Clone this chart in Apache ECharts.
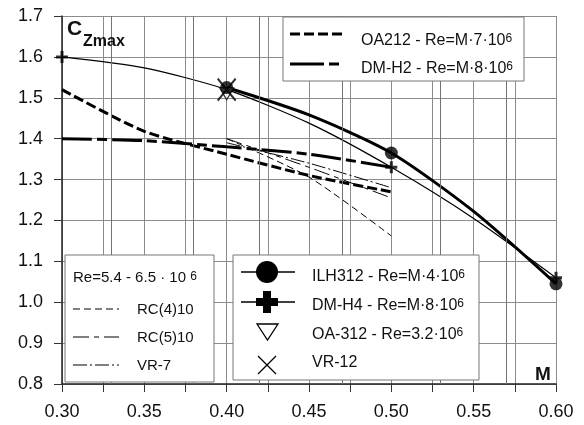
<!DOCTYPE html>
<html>
<head>
<meta charset="utf-8">
<script src="https://cdn.jsdelivr.net/npm/echarts@6/dist/echarts.min.js"></script>
<style>
  html, body { margin: 0; padding: 0; background: #fff; }
  #chart { width: 584px; height: 425px; }
</style>
</head>
<body>
<div id="chart"></div>
<script>
// Maximum lift coefficient C_Zmax versus Mach number for several airfoils.
const FONT = "'Liberation Sans', Arial, sans-serif";

// Mach stations and C_Zmax values per airfoil
const machOA212 = [0.30, 0.35, 0.40, 0.45, 0.50];
const czOA212   = [1.52, 1.418, 1.362, 1.31, 1.27];

const machDMH2 = [0.30, 0.35, 0.40, 0.45, 0.50];
const czDMH2   = [1.40, 1.395, 1.38, 1.362, 1.33];

const machDMH4 = [0.30, 0.35, 0.40, 0.45, 0.50, 0.55, 0.60];
const czDMH4   = [1.60, 1.573, 1.52, 1.438, 1.33, 1.205, 1.06];
const machDMH4Pts = [0.30, 0.50, 0.60];
const czDMH4Pts   = [1.60, 1.33, 1.06];

const machILH312 = [0.40, 0.45, 0.50, 0.55, 0.60];
const czILH312   = [1.525, 1.458, 1.365, 1.222, 1.045];
const machILH312Pts = [0.40, 0.50, 0.60];
const czILH312Pts   = [1.525, 1.365, 1.045];

const machOA312 = [0.40];
const czOA312   = [1.51];

const machVR12 = [0.40];
const czVR12   = [1.52];

const machThin = [0.40, 0.45, 0.50];
const czRC410  = [1.40, 1.306, 1.162];
const czRC510  = [1.40, 1.33, 1.255];
const czVR7    = [1.39, 1.34, 1.28];

// Axis ranges and steps
const machMin = 0.30, machMax = 0.60, machLabelStep = 0.05;
const machTicks = [0.30, 0.325, 0.35, 0.375, 0.40, 0.425, 0.45, 0.475, 0.50, 0.525, 0.55, 0.575, 0.60];
const machHalfSteps = [0.325, 0.375, 0.425, 0.475, 0.525, 0.575];
const czMin = 0.8, czMax = 1.7, czStep = 0.1;

const pairs = (xs, ys) => xs.map((x, i) => [x, ys[i]]);

const PLUS = 'path://M4.5,0h3v4.5h4.5v3h-4.5v4.5h-3v-4.5h-4.5v-3h4.5z';
const CROSS = 'path://M0,0L20,20M20,0L0,20';
const gridLine = { color: '#8c8c8c', width: 1 };

function line(name, data, width, dash, smooth) {
  return {
    name, type: 'line', data, smooth: smooth,
    showSymbol: false, symbol: 'none',
    lineStyle: { color: '#000', width: width, type: dash || 'solid' },
    z: 3, silent: true
  };
}

const series = [
  {
    // intermediate vertical grid lines at the 0.025 steps
    name: 'half-step grid', type: 'line', data: [], z: 1, silent: true,
    markLine: {
      silent: true, symbol: ['none', 'none'], label: { show: false },
      lineStyle: { color: '#737373', width: 1, type: 'solid' },
      emphasis: { disabled: true },
      data: machHalfSteps.map(v => ({ xAxis: v }))
    }
  },
  line('OA212', pairs(machOA212, czOA212), 3, [10, 4], 0.25),
  line('DM-H2', pairs(machDMH2, czDMH2), 3, [30, 5, 10, 5], 0.25),
  line('RC(4)10', pairs(machThin, czRC410), 1, [7, 4], 0.25),
  line('RC(5)10', pairs(machThin, czRC510), 1, [16, 5, 5, 5], 0.25),
  line('VR-7', pairs(machThin, czVR7), 1, [14, 3, 2, 3], 0.25),
  line('DM-H4', pairs(machDMH4, czDMH4), 1.2, 'solid', 0.25),
  line('ILH312', pairs(machILH312, czILH312), 3, 'solid', 0.25),
  {
    name: 'OA-312', type: 'scatter', data: pairs(machOA312, czOA312),
    symbol: 'triangle', symbolRotate: 180, symbolSize: [14, 12],
    itemStyle: { color: '#fff', borderColor: '#000', borderWidth: 1.2 }, z: 4
  },
  {
    name: 'VR-12', type: 'scatter', data: pairs(machVR12, czVR12),
    symbol: CROSS, symbolSize: [18, 22],
    itemStyle: { color: 'none', borderColor: '#000', borderWidth: 2 }, z: 5
  },
  {
    name: 'ILH312 pts', type: 'scatter', data: pairs(machILH312Pts, czILH312Pts),
    symbol: 'circle', symbolSize: 13, itemStyle: { color: '#000' }, z: 6
  },
  {
    name: 'DM-H4 pts', type: 'scatter', data: pairs(machDMH4Pts, czDMH4Pts),
    symbol: PLUS, symbolSize: 12, itemStyle: { color: '#000' }, z: 7
  }
];

// ---- legend artwork ----
const sup = { fontSize: 12, fontFamily: FONT, fill: '#111', verticalAlign: 'top' };
function label(x, y, text, size) {
  const fs = size || 16;
  return {
    type: 'text', x, y, z: 20,
    style: {
      text, fontSize: fs, fontFamily: FONT, fill: '#111',
      verticalAlign: 'middle', rich: { s: sup }
    }
  };
}
function seg(x1, y1, x2, y2, w, dash) {
  return { type: 'line', z: 20, shape: { x1, y1, x2, y2 },
    style: { stroke: '#000', lineWidth: w, lineDash: dash || null } };
}
function box(x, y, w, h) {
  return { type: 'rect', z: 19, shape: { x, y, width: w, height: h },
    style: { fill: '#fff', stroke: '#777', lineWidth: 1 } };
}

const graphics = [
  // axis titles
  { type: 'text', x: 67, y: 40, z: 20, style: { text: 'C', fontSize: 21, fontWeight: 'bold', fontFamily: FONT, fill: '#111', verticalAlign: 'bottom' } },
  { type: 'text', x: 83, y: 50, z: 20, style: { text: 'Zmax', fontSize: 16, fontWeight: 'bold', fontFamily: FONT, fill: '#111', verticalAlign: 'bottom' } },
  { type: 'text', x: 535, y: 384, z: 20, style: { text: 'M', fontSize: 19, fontWeight: 'bold', fontFamily: FONT, fill: '#111', verticalAlign: 'bottom' } },

  // upper legend
  box(283, 17, 241, 64),
  seg(290, 34, 342, 34, 3, [10, 4]),
  seg(290, 64, 342, 64, 3, [34, 5, 10, 5]),
  label(361, 41, 'OA212 - Re=M·7·10{s|6}'),
  label(361, 69, 'DM-H2 - Re=M·8·10{s|6}'),

  // lower-left legend
  box(65, 255, 149, 127),
  label(73, 278, 'Re=5.4 - 6.5 · 10 {s|6}', 15),
  seg(73, 309, 119, 309, 1, [7, 4]),
  seg(73, 337, 119, 337, 1, [16, 5, 5, 5]),
  seg(73, 365, 119, 365, 1, [14, 3, 2, 3]),
  label(137, 310, 'RC(4)10', 15),
  label(137, 338, 'RC(5)10', 15),
  label(137, 366, 'VR-7', 15),

  // lower-right legend
  box(233, 255, 246, 125),
  seg(241, 272, 295, 272, 1.5),
  { type: 'circle', z: 21, shape: { cx: 267, cy: 272, r: 11 }, style: { fill: '#000' } },
  seg(241, 302, 295, 302, 1.5),
  { type: 'rect', z: 21, shape: { x: 256, y: 298, width: 22, height: 8 }, style: { fill: '#000' } },
  { type: 'rect', z: 21, shape: { x: 263, y: 291, width: 8, height: 22 }, style: { fill: '#000' } },
  { type: 'polygon', z: 21, shape: { points: [[257, 324], [278, 324], [267.5, 340]] },
    style: { fill: '#fff', stroke: '#000', lineWidth: 1.3 } },
  seg(258, 356, 276, 374, 1.3),
  seg(276, 356, 258, 374, 1.3),
  label(312, 277, 'ILH312 - Re=M·4·10{s|6}'),
  label(312, 306, 'DM-H4 - Re=M·8·10{s|6}'),
  label(312, 335, 'OA-312 - Re=3.2·10{s|6}'),
  label(312, 363, 'VR-12')
];

const chart = echarts.init(document.getElementById('chart'), null, { renderer: 'canvas' });
chart.setOption({
  animation: false,
  backgroundColor: '#fff',
  grid: { left: 62, right: 28, top: 16, bottom: 41, containLabel: false },
  xAxis: {
    type: 'value', min: machMin, max: machMax, interval: machLabelStep,
    axisLine: { show: true, onZero: false, lineStyle: { color: '#222', width: 1.5 } },
    axisTick: { show: true, inside: false, length: 8, customValues: machTicks, lineStyle: { color: '#333' } },
    splitLine: { show: true, lineStyle: gridLine },
    axisLabel: {
      margin: 19, fontSize: 18, fontFamily: FONT, color: '#111',
      formatter: v => v.toFixed(2)
    }
  },
  yAxis: {
    type: 'value', min: czMin, max: czMax, interval: czStep,
    axisLine: { show: true, onZero: false, lineStyle: { color: '#222', width: 1.5 } },
    axisTick: { show: true, inside: false, length: 8, lineStyle: { color: '#333' } },
    splitLine: { show: true, lineStyle: gridLine },
    axisLabel: { margin: 19, fontSize: 18, fontFamily: FONT, color: '#111', formatter: v => v.toFixed(1) }
  },
  series,
  graphic: graphics
});
</script>
</body>
</html>
